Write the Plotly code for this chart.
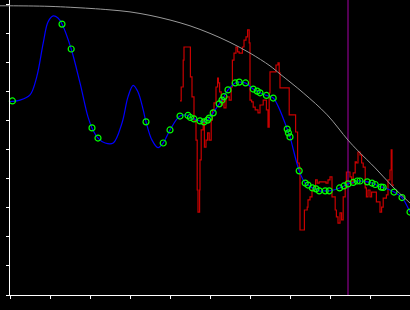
import plotly.graph_objects as go

# ---- data (x in 0..10, y in 0..10 units) ----
gray_x = [-0.25, 0.0, 1.0, 2.0, 2.5, 3.0, 3.5, 4.0, 4.5, 5.0, 5.5, 6.0, 6.5, 6.75, 7.33, 7.93, 8.45, 8.7, 9.13, 9.55, 10.0]
gray_y = [9.97, 9.97, 9.95, 9.88, 9.83, 9.76, 9.64, 9.48, 9.28, 9.02, 8.71, 8.34, 7.90, 7.62, 6.97, 6.21, 5.34, 4.97, 4.38, 3.76, 3.17]

marker_x = [0.06, 1.3, 1.53, 2.05, 2.2, 3.4, 3.83, 4.0, 4.25, 4.45, 4.51, 4.6, 4.75, 4.85, 4.94, 4.98,
            5.08, 5.23, 5.3, 5.35, 5.45, 5.63, 5.73, 5.89, 6.08, 6.18, 6.25, 6.41, 6.58, 6.93, 6.96, 7.0,
            7.23, 7.38, 7.45, 7.56, 7.65, 7.73, 7.88, 7.98, 8.24, 8.35, 8.45, 8.58, 8.68, 8.75, 8.93, 9.05,
            9.13, 9.28, 9.33, 9.6, 9.8, 10.0]
marker_y = [6.69, 9.34, 8.48, 5.76, 5.41, 5.97, 5.24, 5.69, 6.17, 6.19, 6.12, 6.07, 6.0, 5.97, 6.03, 6.10,
            6.28, 6.59, 6.72, 6.84, 7.07, 7.31, 7.34, 7.31, 7.10, 7.03, 6.97, 6.88, 6.79, 5.72, 5.59, 5.45,
            4.28, 3.86, 3.79, 3.69, 3.66, 3.59, 3.59, 3.59, 3.69, 3.76, 3.83, 3.88, 3.93, 3.93, 3.90, 3.86,
            3.81, 3.72, 3.71, 3.55, 3.36, 2.86]

blue_head_x = [0.0, 0.25, 0.5, 0.67, 0.83, 0.95, 1.08, 1.2, 1.3, 1.53, 1.75, 1.95, 2.05, 2.2, 2.38, 2.58,
               2.8, 2.95, 3.08, 3.2, 3.33, 3.4, 3.55, 3.7, 3.83, 4.0]
blue_head_y = [6.67, 6.72, 6.90, 7.53, 8.68, 9.41, 9.62, 9.55, 9.34, 8.48, 7.31, 6.14, 5.76, 5.41, 5.24, 5.24,
               5.93, 6.83, 7.23, 7.0, 6.38, 5.97, 5.34, 5.08, 5.24, 5.69]

red_x = [4.25, 4.28, 4.33, 4.35, 4.51, 4.55, 4.6, 4.65, 4.68, 4.7, 4.74, 4.75, 4.78, 4.83, 4.86, 4.9,
         4.94, 4.98, 5.03, 5.06, 5.1, 5.15, 5.19, 5.21, 5.24, 5.28, 5.31, 5.35, 5.4, 5.48, 5.53, 5.56,
         5.6, 5.65, 5.69, 5.73, 5.81, 5.85, 5.9, 5.94, 5.98, 6.0, 6.04, 6.08, 6.13, 6.2, 6.25, 6.33,
         6.41, 6.45, 6.48, 6.5, 6.65, 6.7, 6.73, 6.75, 6.98, 7.14, 7.19, 7.23, 7.25, 7.36, 7.43, 7.45,
         7.5, 7.55, 7.6, 7.64, 7.68, 7.73, 7.9, 7.95, 8.0, 8.05, 8.13, 8.16, 8.2, 8.25, 8.29, 8.33,
         8.38, 8.41, 8.5, 8.54, 8.58, 8.63, 8.66, 8.7, 8.75, 8.79, 8.83, 8.88, 8.91, 8.95, 9.0, 9.04,
         9.16, 9.25, 9.29, 9.33, 9.41, 9.45, 9.5, 9.53, 9.55, 9.6]
red_y = [6.69, 7.17, 8.10, 8.55, 7.52, 6.83, 6.03, 5.34, 3.62, 2.86, 3.62, 4.66, 5.69, 6.03, 5.10, 5.34,
         5.59, 5.34, 6.03, 6.38, 6.62, 7.17, 7.48, 7.31, 7.0, 6.55, 6.72, 6.45, 6.83, 6.72, 7.17, 8.10,
         8.34, 8.55, 8.38, 8.34, 8.55, 8.79, 8.90, 9.14, 8.69, 6.72, 6.66, 6.48, 6.38, 6.28, 6.55, 6.72,
         6.38, 5.79, 6.97, 7.69, 7.93, 8.0, 7.66, 7.14, 6.21, 5.62, 4.55, 4.41, 2.24, 2.93, 3.03, 3.28,
         3.38, 3.62, 3.69, 3.97, 3.86, 3.90, 3.86, 3.97, 4.07, 3.38, 2.93, 2.69, 2.48, 2.83, 2.59, 3.38,
         3.72, 4.24, 4.07, 3.86, 4.21, 4.59, 4.55, 4.93, 4.83, 4.55, 4.41, 3.69, 3.38, 3.62, 3.38, 3.55,
         3.21, 2.86, 3.03, 3.34, 3.45, 3.97, 4.31, 5.0, 3.79, 3.79]

purple_x = 8.45
y_top = 10.17

blue_x = blue_head_x + marker_x[8:]
blue_y = blue_head_y + marker_y[8:]

fig = go.Figure()

fig.add_trace(go.Scatter(x=red_x, y=red_y, mode="lines", line=dict(color="#c80000", width=1.2, shape="hv"),
                         hoverinfo="skip"))
fig.add_trace(go.Scatter(x=[purple_x, purple_x], y=[0, y_top], mode="lines",
                         line=dict(color="#8b008b", width=1.2), hoverinfo="skip"))
fig.add_trace(go.Scatter(x=blue_x, y=blue_y, mode="lines", line=dict(color="#0000ff", width=1.2, shape="spline", smoothing=1),
                         hoverinfo="skip"))
fig.add_trace(go.Scatter(x=marker_x, y=marker_y, mode="markers", cliponaxis=False,
                         marker=dict(symbol="circle-open", size=6, color="#00ff00", line=dict(color="#00ff00", width=1.2)),
                         hoverinfo="skip"))
fig.add_trace(go.Scatter(x=gray_x, y=gray_y, mode="lines", xaxis="x2", yaxis="y2",
                         line=dict(color="#999999", width=1, shape="spline"), hoverinfo="skip"))

axis_style = dict(showgrid=False, zeroline=False, showticklabels=False, ticks="outside", ticklen=3,
                  tickwidth=1, tickcolor="white", showline=True, linecolor="white", linewidth=1, dtick=1, tick0=0)

fig.update_layout(
    width=410, height=310,
    margin=dict(l=0, r=0, t=0, b=15),
    paper_bgcolor="black", plot_bgcolor="rgba(0,0,0,0)",
    showlegend=False,
    xaxis=dict(domain=[10 / 410, 1], range=[0, 10], anchor="y", **axis_style),
    yaxis=dict(domain=[0, 1], range=[0, y_top], anchor="x", **axis_style),
    xaxis2=dict(domain=[0, 1], range=[-0.25, 10], anchor="y2", visible=False),
    yaxis2=dict(domain=[0, 1], range=[0, y_top], anchor="x2", visible=False),
)

fig.write_html("out.html")
